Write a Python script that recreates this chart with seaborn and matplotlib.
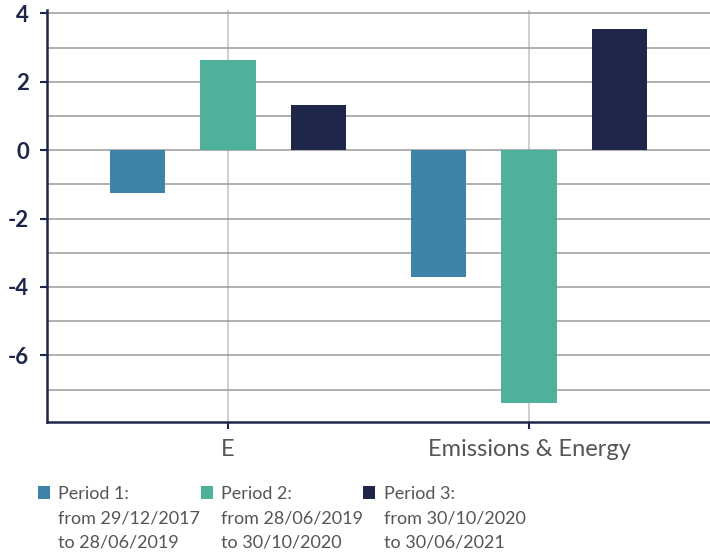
import pandas as pd
import matplotlib.pyplot as plt
import seaborn as sns
from matplotlib.ticker import MultipleLocator

categories = ['E', 'Emissions & Energy']
period_names = ['Period 1:', 'Period 2:', 'Period 3:']
period_ranges = ['from 29/12/2017\nto 28/06/2019',
                 'from 28/06/2019\nto 30/10/2020',
                 'from 30/10/2020\nto 30/06/2021']
period1 = [-1.26, -3.70]
period2 = [2.65, -7.38]
period3 = [1.33, 3.55]
colors = ['#3d84a8', '#4fb09b', '#1e2749']

df = pd.DataFrame({
    'category': categories * 3,
    'period': [period_names[0]] * 2 + [period_names[1]] * 2 + [period_names[2]] * 2,
    'value': period1 + period2 + period3,
})

sns.set_theme(style="white")
plt.rcParams['font.family'] = ['Lato', 'DejaVu Sans']
plt.rcParams['axes.unicode_minus'] = False

navy = '#1e2749'
grey_text = '#555555'
fig = plt.figure(figsize=(7.1, 5.56), dpi=100)
ax = fig.add_axes([47 / 710, 1 - 422 / 556, 1 - 47 / 710, 412 / 556])

sns.barplot(data=df, x='category', y='value', hue='period', palette=colors,
            width=0.9, gap=0.39, saturation=1, linewidth=0, ax=ax, zorder=3)

ax.set_xlim(-0.601, 1.601)
ax.set_ylim(-7.95, 4.1)
ax.yaxis.set_major_locator(MultipleLocator(2))
ax.yaxis.set_minor_locator(MultipleLocator(1))
ax.grid(axis='y', which='both', color='#9a9a9a', linewidth=1.1, zorder=0)
ax.grid(axis='x', which='major', color='#c4c4c4', linewidth=1.1, zorder=0)
ax.set_axisbelow(True)

for side in ['top', 'right']:
    ax.spines[side].set_visible(False)
for side in ['left', 'bottom']:
    ax.spines[side].set_color(navy)
    ax.spines[side].set_linewidth(1.8)

ax.tick_params(axis='y', which='major', left=True, length=5, width=1.5, color=navy,
               labelsize=16, labelcolor=navy, pad=8)
ax.tick_params(axis='y', which='minor', left=False)
ax.tick_params(axis='x', bottom=True, length=5, width=1.5, color=navy,
               labelsize=17, labelcolor=grey_text, pad=7)
for lbl in ax.get_yticklabels():
    lbl.set_fontweight('bold')
ax.set_xlabel('')
ax.set_ylabel('')

handles, labels = ax.get_legend_handles_labels()
ax.get_legend().remove()
leg = fig.legend(handles, labels, loc='upper left',
                 bbox_to_anchor=(38 / 710, 1 - 486 / 556),
                 ncol=3, frameon=False, fontsize=13, handlelength=0.68,
                 handleheight=0.68, handletextpad=0.45, columnspacing=3.95,
                 labelcolor=grey_text, borderaxespad=0, borderpad=0)

# date ranges under each legend label
fig.canvas.draw()
inv = fig.transFigure.inverted()
for txt, rng in zip(leg.get_texts(), period_ranges):
    bb = txt.get_window_extent()
    x0, y0 = inv.transform((bb.x0, bb.y0))
    fig.text(x0, y0 - 8 / 556, rng, ha='left', va='top', fontsize=13,
             color=grey_text, linespacing=1.62)

fig.savefig('out.png', dpi=100)
